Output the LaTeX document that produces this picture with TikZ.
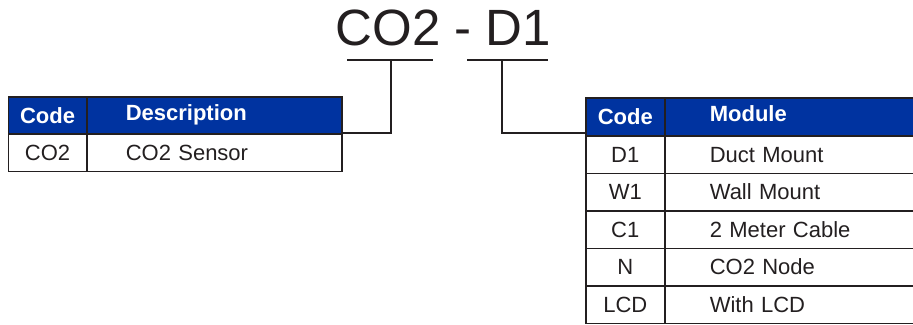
\documentclass[tikz,border=0pt]{standalone}
\usepackage{fontspec}
\setmainfont{Liberation Sans}
\definecolor{linec}{RGB}{35,31,32}
\definecolor{hdrblue}{RGB}{0,51,160}
\begin{document}
\begin{tikzpicture}[x=1pt,y=-1pt,
  cell/.style={draw=linec, line width=1.6pt, rectangle, inner sep=0pt,
    anchor=north west, minimum height=37.5pt, text height=15.8pt, text depth=0pt,
    font=\fontsize{22}{24}\selectfont, text=linec},
  hdr/.style={cell, fill=hdrblue, text=white, font=\bfseries\fontsize{22}{24}\selectfont},
  codecell/.style={minimum width=#1},
  desccell/.style={text width=#1, align=left},
  conn/.style={draw=linec, line width=2pt},
]
\useasboundingbox (0,0) rectangle (913,324);
\clip (0,0) rectangle (913,324);

% part number heading
\node[inner sep=0pt, anchor=base west, font=\fontsize{51}{56}\selectfont, text=linec]
  (title) at (335.5,45) {CO2 - D1};
\coordinate (bar1l) at (347,60);
\coordinate (bar1r) at (433,60);
\coordinate (bar1m) at (391,60);
\coordinate (bar2l) at (467,60);
\coordinate (bar2r) at (548,60);
\coordinate (bar2m) at (502,60);

% sensor table
\node[hdr, codecell=78.5pt, minimum height=37pt] (lcode-h) at (7.5,96) {Code};
\node[hdr, desccell=177pt, inner xsep=39pt, minimum height=37pt] (ldesc-h) at (86,96) {\raisebox{3pt}{Description}};
\node[cell, codecell=78.5pt] (lcode-1) at (7.5,133) {CO2};
\node[cell, desccell=177pt, inner xsep=39pt] (ldesc-1) at (86,133) {CO2 Sensor};

% module table
\node[hdr, codecell=79pt, minimum height=38pt] (rcode-h) at (585,97) {Code};
\node[hdr, desccell=166pt, inner xsep=45pt, minimum height=38pt] (rmod-h) at (664,97) {\raisebox{3pt}{Module}};
\foreach \c/\m [count=\i from 0] in {D1/Duct Mount, W1/Wall Mount, C1/2 Meter Cable, N/CO2 Node, LCD/With LCD}{
  \node[cell, codecell=79pt] (rcode-\i) at (585,135+37.5*\i) {\c};
  \node[cell, desccell=166pt, inner xsep=45pt] (rmod-\i) at (664,135+37.5*\i) {\m};
}

% underline bars and leader lines
\draw[conn] (bar1l) -- (bar1r);
\draw[conn] (bar2l) -- (bar2r);
\draw[conn] (lcode-1.north -| ldesc-h.east) -| (bar1m);
\draw[conn] (bar2m) |- (rcode-h.west |- lcode-1.north);
\end{tikzpicture}
\end{document}
